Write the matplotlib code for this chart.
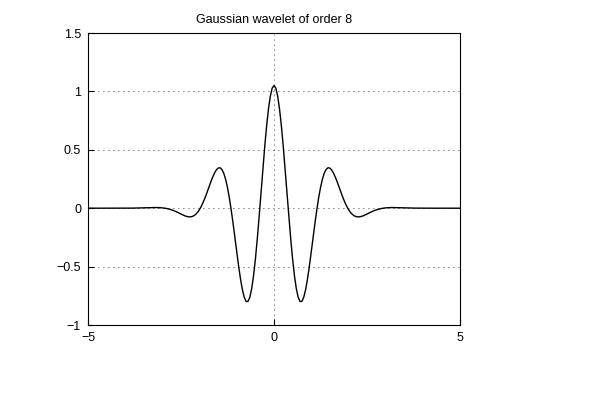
import matplotlib
matplotlib.use("Agg")
import matplotlib.pyplot as plt

# sample positions: step 0.1 in the flat tails, 0.05 in the middle
x_half = [round(0.05 * i, 2) for i in range(51)] + [round(2.5 + 0.1 * i, 1) for i in range(1, 26)]
x_vals = [-v for v in reversed(x_half)] + x_half[1:]

# values, x = -5 .. 5
y_vals = [
    # -5.0 .. -2.6 (step 0.1)
    0.0, 0.0, 0.0, 0.0, 0.0, 0.0, 0.0, 0.0, 0.0, 0.0001,
    0.0002, 0.0004, 0.0007, 0.0012, 0.0020, 0.0031, 0.0040, 0.0049, 0.0054, 0.0049,
    0.0028, -0.0017, -0.0092, -0.020, -0.034,
    # -2.5 .. -0.05 (step 0.05)
    -0.050, -0.058, -0.065, -0.070, -0.074, -0.074, -0.071, -0.064, -0.051, -0.034,
    -0.010, 0.019, 0.054, 0.093, 0.135, 0.180, 0.224, 0.265, 0.300, 0.328,
    0.344, 0.346, 0.331, 0.299, 0.247, 0.176, 0.088, -0.016, -0.131, -0.254,
    -0.379, -0.499, -0.607, -0.697, -0.762, -0.798, -0.799, -0.763, -0.689, -0.579,
    -0.436, -0.265, -0.075, 0.127, 0.329, 0.524, 0.699, 0.846, 0.957, 1.027,
    # 0 .. 2.5 (step 0.05)
    1.05,
    1.027, 0.957, 0.846, 0.699, 0.524, 0.329, 0.127, -0.075, -0.265, -0.436,
    -0.579, -0.689, -0.763, -0.799, -0.798, -0.762, -0.697, -0.607, -0.499, -0.379,
    -0.254, -0.131, -0.016, 0.088, 0.176, 0.247, 0.299, 0.331, 0.346, 0.344,
    0.328, 0.300, 0.265, 0.224, 0.180, 0.135, 0.093, 0.054, 0.019, -0.010,
    -0.034, -0.051, -0.064, -0.071, -0.074, -0.074, -0.070, -0.065, -0.058, -0.050,
    # 2.6 .. 5.0 (step 0.1)
    -0.034, -0.020, -0.0092, -0.0017, 0.0028, 0.0049, 0.0054, 0.0049, 0.0040, 0.0031,
    0.0020, 0.0012, 0.0007, 0.0004, 0.0002, 0.0001, 0.0, 0.0, 0.0, 0.0,
    0.0, 0.0, 0.0, 0.0, 0.0,
]

x_ticks = [-5, 0, 5]
x_labels = ["\u22125", "0", "5"]
y_ticks = [-1, -0.5, 0, 0.5, 1, 1.5]
y_labels = ["\u22121", "\u22120.5", "0", "0.5", "1", "1.5"]

plt.rcParams["font.family"] = ["Liberation Sans", "DejaVu Sans"]
plt.rcParams["font.size"] = 9

fig = plt.figure(figsize=(5.99, 3.96), dpi=100)
ax = fig.add_axes([88 / 599, 71 / 396, 372 / 599, 292 / 396])

ax.plot(x_vals, y_vals, color="black", linewidth=1.0)

ax.set_xlim(-5, 5)
ax.set_ylim(-1, 1.5)
ax.set_xticks(x_ticks)
ax.set_xticklabels(x_labels)
ax.set_yticks(y_ticks)
ax.set_yticklabels(y_labels)
ax.tick_params(direction="in", length=4, width=0.8, pad=5)

# dotted grid, like the old matlab "grid on"
for yt in y_ticks[1:-1]:
    ax.axhline(yt, color="black", linestyle=(0, (1, 5)), linewidth=0.6, zorder=0)
ax.axvline(0, color="black", linestyle=(0, (1, 5)), linewidth=0.6, zorder=0)

for s in ax.spines.values():
    s.set_linewidth(0.8)

ax.set_title("Gaussian wavelet of order 8", fontsize=9, pad=7)

fig.savefig("out.png", dpi=100)
